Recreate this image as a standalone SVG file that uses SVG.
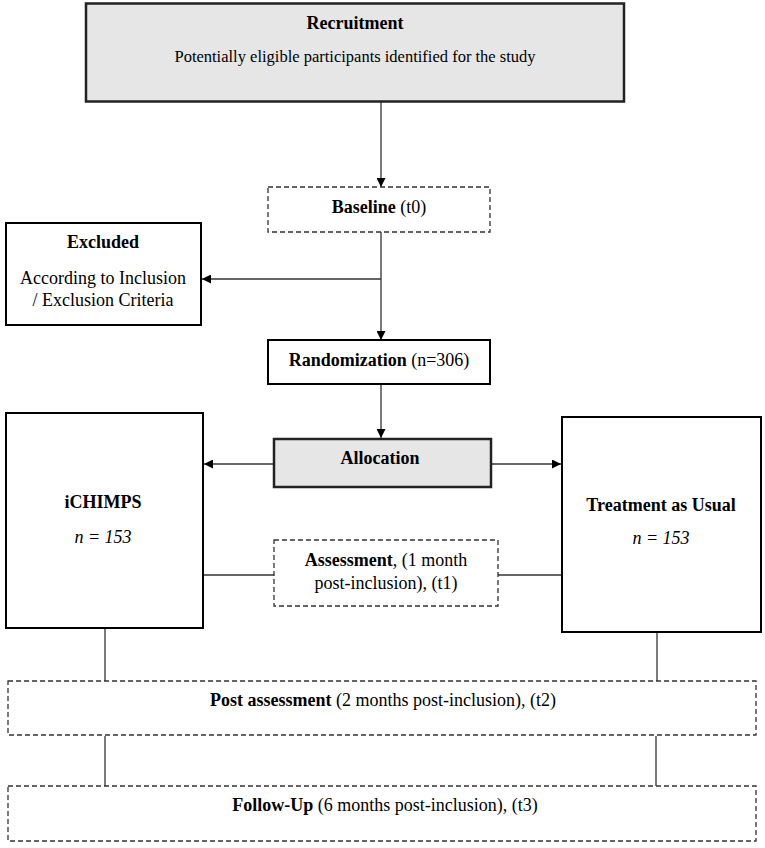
<svg xmlns="http://www.w3.org/2000/svg" width="765" height="848" viewBox="0 0 765 848">
<defs>
<style>
text{font-family:"Liberation Serif","Times New Roman",serif;font-size:18px;fill:#000;text-anchor:middle}
.b{font-weight:bold}
.i{font-style:italic}
.sub{font-size:16.5px}
.box{fill:#fff;stroke:#000;stroke-width:2}
.gray{fill:#e6e6e6;stroke:#222;stroke-width:2.5}
.dash{fill:#fff;stroke:#333;stroke-width:1.3;stroke-dasharray:5,3}
.ln{stroke:#333;stroke-width:1.3;fill:none}
</style>
<marker id="ah" viewBox="0 0 10 10" refX="10" refY="5" markerWidth="9" markerHeight="9" markerUnits="userSpaceOnUse" orient="auto"><path d="M0,0 L10,5 L0,10 z" fill="#000"/></marker>
</defs>
<rect width="765" height="848" fill="#fff"/>
<g id="connectors">
<line class="ln" x1="381" y1="101" x2="381" y2="187" marker-end="url(#ah)"/>
<line class="ln" x1="381" y1="232" x2="381" y2="340" marker-end="url(#ah)"/>
<line class="ln" x1="381" y1="279" x2="202" y2="279" marker-end="url(#ah)"/>
<line class="ln" x1="381" y1="384" x2="381" y2="438" marker-end="url(#ah)"/>
<line class="ln" x1="274" y1="464" x2="204" y2="464" marker-end="url(#ah)"/>
<line class="ln" x1="491" y1="464" x2="561" y2="464" marker-end="url(#ah)"/>
<line class="ln" x1="203" y1="575" x2="274" y2="575"/>
<line class="ln" x1="498" y1="575" x2="562" y2="575"/>
<line class="ln" x1="105" y1="628" x2="105" y2="681"/>
<line class="ln" x1="657" y1="632" x2="657" y2="681"/>
<line class="ln" x1="105" y1="736" x2="105" y2="786"/>
<line class="ln" x1="656" y1="736" x2="656" y2="786"/>
</g>
<g id="recruitment">
<rect class="gray" x="86" y="3.5" width="538" height="98"/>
<text class="b" x="355" y="28.5">Recruitment</text>
<text class="sub" x="355" y="62">Potentially eligible participants identified for the study</text>
</g>
<g id="baseline">
<rect class="dash" x="268" y="187" width="222" height="45"/>
<text x="379" y="213"><tspan class="b">Baseline</tspan> (t0)</text>
</g>
<g id="excluded">
<rect class="box" x="6" y="223" width="195" height="102"/>
<text class="b" x="103" y="248">Excluded</text>
<text x="103" y="284">According to Inclusion</text>
<text x="103" y="306">/ Exclusion Criteria</text>
</g>
<g id="randomization">
<rect class="box" x="268" y="340" width="222" height="44"/>
<text x="379" y="366"><tspan class="b">Randomization</tspan> (n=306)</text>
</g>
<g id="allocation">
<rect class="gray" x="274" y="439" width="217" height="48"/>
<text class="b" x="380" y="464">Allocation</text>
</g>
<g id="ichimps">
<rect class="box" x="6" y="413" width="197" height="215"/>
<text class="b" x="103" y="508">iCHIMPS</text>
<text class="i" x="103" y="543">n = 153</text>
</g>
<g id="tau">
<rect class="box" x="562" y="417" width="199" height="215"/>
<text class="b" x="661" y="511">Treatment as Usual</text>
<text class="i" x="661" y="544">n = 153</text>
</g>
<g id="assessment">
<rect class="dash" x="274" y="540" width="224" height="66"/>
<text x="386" y="566"><tspan class="b">Assessment</tspan>, (1 month</text>
<text x="386" y="589">post-inclusion), (t1)</text>
</g>
<g id="post">
<rect class="dash" x="8" y="681" width="748" height="54"/>
<text x="383" y="706"><tspan class="b">Post assessment</tspan> (2 months post-inclusion), (t2)</text>
</g>
<g id="followup">
<rect class="dash" x="8" y="786" width="748" height="55"/>
<text x="385" y="811"><tspan class="b">Follow-Up</tspan> (6 months post-inclusion), (t3)</text>
</g>
</svg>
